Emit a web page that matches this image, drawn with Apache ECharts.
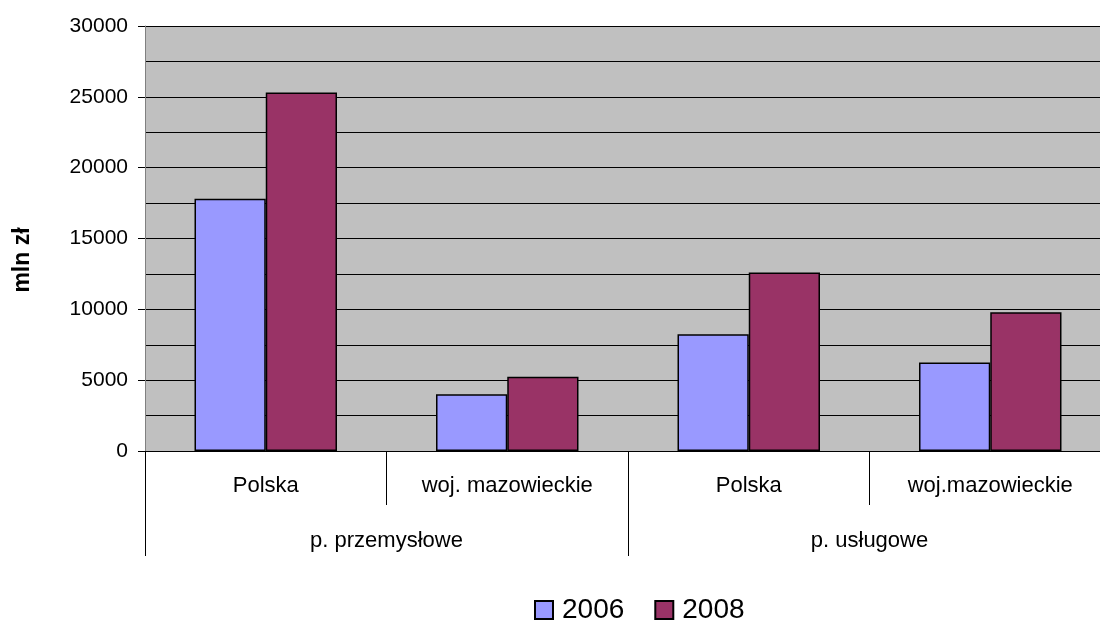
<!DOCTYPE html>
<html>
<head>
<meta charset="utf-8">
<script src="https://cdn.jsdelivr.net/npm/echarts@6/dist/echarts.min.js"></script>
<style>
  html, body { margin: 0; padding: 0; background: #fff; overflow: hidden; }
  /* plot runs a little past the right edge of the picture */
  #chart { width: 1111px; height: 621px; }
</style>
</head>
<body>
<div id="chart"></div>
<script>
// Data
const subCategories = ['Polska', 'woj. mazowieckie', 'Polska', 'woj.mazowieckie'];
const groups = ['p. przemysłowe', 'p. usługowe'];
const values2006 = [17800, 4000, 8250, 6250];
const values2008 = [25300, 5250, 12600, 9800];
const yTicks = { min: 0, max: 30000, step: 5000 };

const font = 'Liberation Sans, Arial, sans-serif';

const chart = echarts.init(document.getElementById('chart'), null, { renderer: 'canvas' });
chart.setOption({
  animation: false,
  textStyle: { fontFamily: font },
  grid: { left: 145, right: 0, top: 26, bottom: 170, show: true, backgroundColor: '#c0c0c0', borderWidth: 0 },
  legend: {
    top: 591,
    left: 529,
    itemWidth: 18,
    itemHeight: 18,
    itemGap: 30,
    icon: 'rect',
    textStyle: { fontSize: 28, color: '#000', fontFamily: font, padding: [0, 0, 0, 4] },
    data: ['2006', '2008']
  },
  xAxis: [
    {
      type: 'category',
      data: subCategories,
      position: 'bottom',
      axisLine: { lineStyle: { color: '#000', width: 1 } },
      axisTick: { show: true, length: 54, lineStyle: { color: '#000' } },
      axisLabel: { color: '#000', fontSize: 22, margin: 24, fontFamily: font, interval: 0 },
      splitLine: { show: false }
    },
    {
      type: 'category',
      data: groups,
      position: 'bottom',
      axisLine: { show: false },
      axisTick: { show: true, length: 105, lineStyle: { color: '#000' } },
      axisLabel: { color: '#000', fontSize: 22, margin: 79, fontFamily: font, interval: 0 },
      splitLine: { show: false }
    }
  ],
  yAxis: {
    type: 'value',
    min: yTicks.min,
    max: yTicks.max,
    interval: yTicks.step,
    axisLine: { show: true, lineStyle: { color: '#808080', width: 1 } },
    axisTick: { show: true, length: 7, lineStyle: { color: '#000' } },
    axisLabel: { color: '#000', fontSize: 21, margin: 17, fontFamily: font, formatter: (v) => String(v) },
    splitLine: { show: true, lineStyle: { color: '#000', width: 1 } },
    minorTick: { show: false, splitNumber: 2 },
    minorSplitLine: { show: true, lineStyle: { color: '#000', width: 1 } }
  },
  graphic: [{
    type: 'text',
    x: 23,
    y: 260,
    rotation: Math.PI / 2,
    style: {
      text: 'mln zł',
      font: 'bold 23px ' + font,
      fill: '#000',
      align: 'center',
      verticalAlign: 'middle'
    }
  }],
  series: [
    {
      name: '2006',
      type: 'bar',
      xAxisIndex: 0,
      data: values2006,
      barGap: '0%',
      barCategoryGap: '41%',
      itemStyle: { color: '#9999ff', borderColor: '#000', borderWidth: 1.5 }
    },
    {
      name: '2008',
      type: 'bar',
      xAxisIndex: 0,
      data: values2008,
      barGap: '0%',
      barCategoryGap: '41%',
      itemStyle: { color: '#993366', borderColor: '#000', borderWidth: 1.5 }
    }
  ]
});
</script>
</body>
</html>
